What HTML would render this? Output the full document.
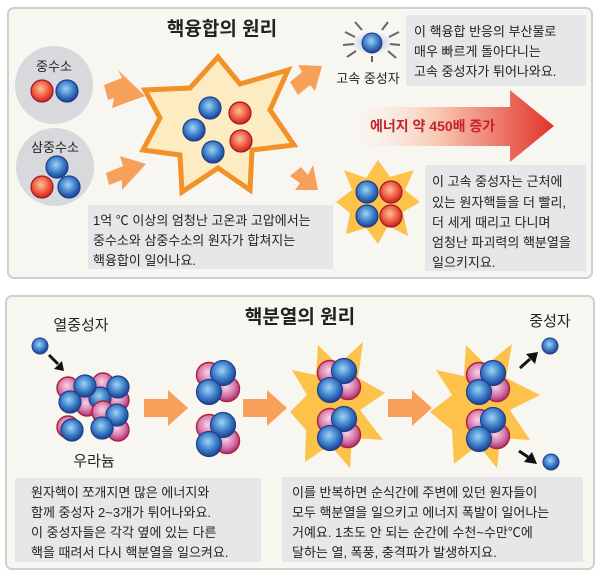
<!DOCTYPE html>
<html><head><meta charset="utf-8"><style>
html,body{margin:0;padding:0;background:#fff;}
svg{display:block;font-family:"Liberation Sans","Noto Sans CJK KR",sans-serif;}
.t{font-size:13px;fill:#222;}
</style></head><body>
<svg width="600" height="576" viewBox="0 0 600 576" xmlns="http://www.w3.org/2000/svg">
<defs>
<radialGradient id="bl" cx="45%" cy="40%" r="60%"><stop offset="0" stop-color="#9fd4f4"/><stop offset="0.6" stop-color="#3a7cc8"/><stop offset="1" stop-color="#1d3f8e"/></radialGradient>
<radialGradient id="rd" cx="45%" cy="40%" r="60%"><stop offset="0" stop-color="#fbc3a0"/><stop offset="0.6" stop-color="#ef5a3e"/><stop offset="1" stop-color="#c8202a"/></radialGradient>
<radialGradient id="pk" cx="45%" cy="40%" r="60%"><stop offset="0" stop-color="#f8d4e6"/><stop offset="0.6" stop-color="#d77aac"/><stop offset="1" stop-color="#a83070"/></radialGradient>
<linearGradient id="big" x1="0" x2="1"><stop offset="0" stop-color="#fbeee6" stop-opacity="0.2"/><stop offset="0.4" stop-color="#f8c6b0"/><stop offset="1" stop-color="#e2332a"/></linearGradient>
<radialGradient id="glow"><stop offset="0" stop-color="#a8b8e0"/><stop offset="1" stop-color="#a8b8e0" stop-opacity="0"/></radialGradient>
<symbol id="B" overflow="visible"><circle r="11" fill="url(#bl)" stroke="#1f3f8a" stroke-width="1.2"/></symbol>
<symbol id="R" overflow="visible"><circle r="11" fill="url(#rd)" stroke="#a01a2a" stroke-width="1.2"/></symbol>
<symbol id="P" overflow="visible"><circle r="11" fill="url(#pk)" stroke="#b0203a" stroke-width="1.4"/></symbol>
<symbol id="B2" overflow="visible"><circle r="12.5" fill="url(#bl)" stroke="#1f3f8a" stroke-width="1.2"/></symbol>
<symbol id="P2" overflow="visible"><circle r="12.5" fill="url(#pk)" stroke="#b0203a" stroke-width="1.4"/></symbol>
<symbol id="F" overflow="visible">
<use href="#P2" x="-8" y="-7"/><use href="#P2" x="10" y="7"/><use href="#B2" x="6" y="-9"/><use href="#B2" x="-8" y="10"/>
</symbol>
</defs>

<!-- Panel 1 -->
<rect x="8" y="8" width="584" height="270" rx="6" fill="#f8f6f1" stroke="#d0d0d0" stroke-width="2"/>
<text x="222" y="35" font-size="19" font-weight="bold" text-anchor="middle" fill="#222">핵융합의 원리</text>

<circle cx="54" cy="85" r="39" fill="#d8d9dc"/>
<text x="54" y="71" text-anchor="middle" font-size="13" fill="#222">중수소</text>
<use href="#R" x="42" y="91"/><use href="#B" x="67" y="91"/>
<circle cx="55" cy="167" r="39" fill="#d8d9dc"/>
<text x="55" y="152" text-anchor="middle" font-size="13" fill="#222">삼중수소</text>
<use href="#B" x="57" y="167"/><use href="#R" x="42" y="187"/><use href="#B" x="69" y="187"/>

<polygon points="104,85 122,78 118,70 145,96 112,108 114,98 108,100" fill="#f7a05a"/>
<polygon points="106,173 123,166 120,156 146,164 122,190 122,180 109,185" fill="#f7a05a"/>

<polygon points="218,57 240,84 288,70 270,110 294,145 252,150 250,190 218,168 182,192 180,155 143,150 160,118 145,90 190,88" fill="#fdebc1" stroke="#f29127" stroke-width="5" stroke-linejoin="miter"/>
<use href="#B" x="210" y="108"/><use href="#B" x="194" y="130"/><use href="#B" x="213" y="152"/>
<use href="#R" x="240" y="113"/><use href="#R" x="241" y="141"/>

<polygon points="290,82 302,72 298,65 322,66 315,91 310,85 298,95" fill="#f7a05a"/>
<polygon points="290,176 301,167 308,175 313,165 318,190 295,190 300,183" fill="#f7a05a"/>

<ellipse cx="372" cy="43" rx="20" ry="12" fill="url(#glow)"/>
<g stroke="#666" stroke-width="2">
<line x1="345" y1="32" x2="355" y2="37"/><line x1="343" y1="45" x2="354" y2="44"/><line x1="347" y1="57" x2="356" y2="51"/>
<line x1="355" y1="22" x2="362" y2="30"/><line x1="399" y1="32" x2="389" y2="37"/><line x1="400" y1="45" x2="390" y2="44"/>
<line x1="396" y1="58" x2="388" y2="51"/><line x1="388" y1="22" x2="382" y2="30"/><line x1="372" y1="62" x2="372" y2="56"/>
</g>
<circle cx="372" cy="43" r="10" fill="url(#bl)" stroke="#1f3f8a"/>
<text x="368" y="83" text-anchor="middle" font-size="13" fill="#222">고속 중성자</text>

<rect x="406" y="15" width="180" height="71" fill="#e7e7e9"/>
<text class="t" x="414" y="36">이 핵융합 반응의 부산물로</text>
<text class="t" x="414" y="56">매우 빠르게 돌아다니는</text>
<text class="t" x="414" y="76">고속 중성자가 튀어나와요.</text>

<polygon points="362,107 510,107 510,90 554,126 510,162 510,146 362,146" fill="url(#big)"/>
<text x="370" y="131" font-size="14" font-weight="bold" fill="#c4222a">에너지 약 450배 증가</text>

<polygon points="378,160 390,177 414,170 405,190 420,202 403,212 408,236 388,226 378,244 366,228 346,234 350,213 336,202 352,190 344,170 366,178" fill="#fcc24a"/>
<use href="#B" x="367" y="192"/><use href="#R" x="391" y="192"/><use href="#B" x="367" y="216"/><use href="#R" x="391" y="216"/>

<rect x="425" y="165" width="161" height="106" fill="#e7e7e9"/>
<text class="t" x="432" y="186">이 고속 중성자는 근처에</text>
<text class="t" x="432" y="207">있는 원자핵들을 더 빨리,</text>
<text class="t" x="432" y="227">더 세게 때리고 다니며</text>
<text class="t" x="432" y="247">엄청난 파괴력의 핵분열을</text>
<text class="t" x="432" y="267">일으키지요.</text>

<rect x="88" y="205" width="245" height="64" fill="#e7e7e9"/>
<text class="t" x="93" y="225">1억 ℃  이상의 엄청난 고온과 고압에서는</text>
<text class="t" x="93" y="245">중수소와 삼중수소의 원자가 합쳐지는</text>
<text class="t" x="93" y="265">핵융합이 일어나요.</text>

<!-- Panel 2 -->
<rect x="6" y="296" width="588" height="273" rx="6" fill="#f8f6f1" stroke="#d0d0d0" stroke-width="2"/>
<text x="300" y="323" font-size="19" font-weight="bold" text-anchor="middle" fill="#222">핵분열의 원리</text>
<text x="81" y="330" text-anchor="middle" font-size="15" fill="#222">열중성자</text>
<circle cx="40" cy="346" r="8" fill="url(#bl)" stroke="#1f3f8a"/>
<line x1="49" y1="355" x2="58" y2="364" stroke="#111" stroke-width="3"/>
<polygon points="54,369 64,371 62,361" fill="#111"/>

<use href="#P" x="68" y="388"/><use href="#P" x="103" y="384"/><use href="#P" x="118" y="400"/><use href="#P" x="118" y="430"/><use href="#P" x="68" y="427"/><use href="#P" x="87" y="405"/>
<use href="#B" x="100" y="398"/>
<use href="#P" x="103" y="412"/>
<use href="#B" x="85" y="386"/><use href="#B" x="118" y="387"/><use href="#B" x="70" y="402"/><use href="#B" x="117" y="415"/><use href="#B" x="72" y="430"/><use href="#B" x="102" y="428"/>
<text x="94" y="466" text-anchor="middle" font-size="15" fill="#222">우라늄</text>

<polygon points="144,399 168,399 168,390 188,408 168,426 168,417 144,417" fill="#f7a05a"/>
<polygon points="243,399 267,399 267,390 287,408 267,426 267,417 243,417" fill="#f7a05a"/>
<polygon points="388,399 412,399 412,390 432,408 412,426 412,417 388,417" fill="#f7a05a"/>

<use href="#F" x="217" y="382"/><use href="#F" x="217" y="434"/>

<polygon points="318,345 338,365 363,342 358,378 385,393 360,410 383,440 352,438 350,468 330,445 305,462 306,430 290,412 307,395 292,370 316,375" fill="#fcc24a"/>
<use href="#F" x="338" y="380"/><use href="#F" x="338" y="428"/>

<polygon points="466,345 486,365 512,344 506,378 540,395 510,410 530,440 500,438 497,468 478,445 454,464 452,430 430,412 452,395 436,370 464,376" fill="#fcc24a"/>
<use href="#F" x="487" y="382"/><use href="#F" x="487" y="429"/>

<text x="550" y="326" text-anchor="middle" font-size="15" fill="#222">중성자</text>
<circle cx="550" cy="346" r="8" fill="url(#bl)" stroke="#1f3f8a"/>
<circle cx="551" cy="462" r="8" fill="url(#bl)" stroke="#1f3f8a"/>
<line x1="520" y1="368" x2="530" y2="359" stroke="#111" stroke-width="3"/>
<polygon points="526,354 538,352 535,364" fill="#111"/>
<line x1="519" y1="451" x2="528" y2="457" stroke="#111" stroke-width="3"/>
<polygon points="524,462 537,464 532,452" fill="#111"/>

<rect x="15" y="478" width="246" height="84" fill="#e7e7e9"/>
<text class="t" x="31" y="497">원자핵이 쪼개지면 많은 에너지와</text>
<text class="t" x="31" y="517">함께 중성자 2~3개가 튀어나와요.</text>
<text class="t" x="31" y="537">이 중성자들은 각각 옆에 있는 다른</text>
<text class="t" x="31" y="557">핵을 때려서 다시 핵분열을 일으켜요.</text>

<rect x="282" y="477" width="301" height="85" fill="#e7e7e9"/>
<text class="t" x="292" y="497">이를 반복하면 순식간에 주변에 있던 원자들이</text>
<text class="t" x="292" y="517">모두 핵분열을 일으키고 에너지 폭발이 일어나는</text>
<text class="t" x="292" y="537">거예요. 1초도 안 되는 순간에 수천~수만℃에</text>
<text class="t" x="292" y="557">달하는 열, 폭풍, 충격파가 발생하지요.</text>
</svg>
</body></html>
